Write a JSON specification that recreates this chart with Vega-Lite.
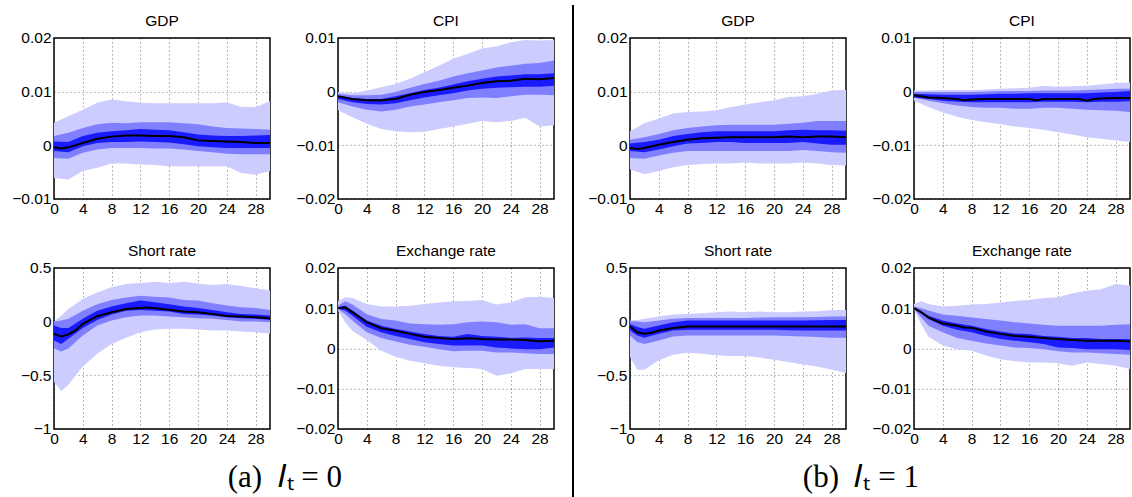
{
"$schema":"https://vega.github.io/schema/vega-lite/v6.json",
"padding":{"left":11,"top":4,"right":0,"bottom":0},
"background":"white",
"spacing":5,
"center":true,
"datasets":{
"bands":[
{"p":"aG","h":0,"l3":-0.0061,"l2":-0.0024,"l1":-0.0011,"u1":0.0007,"u2":0.0017,"u3":0.0042},
{"p":"aG","h":2,"l3":-0.0064,"l2":-0.0025,"l1":-0.0013,"u1":0.0006,"u2":0.0023,"u3":0.0054},
{"p":"aG","h":4,"l3":-0.0048,"l2":-0.0014,"l1":-0.0002,"u1":0.0017,"u2":0.0032,"u3":0.0066},
{"p":"aG","h":6,"l3":-0.0042,"l2":-0.0008,"l1":0.0004,"u1":0.0023,"u2":0.0039,"u3":0.0079},
{"p":"aG","h":8,"l3":-0.0034,"l2":-0.0005,"l1":0.0006,"u1":0.0026,"u2":0.0042,"u3":0.0085},
{"p":"aG","h":10,"l3":-0.0034,"l2":-0.0005,"l1":0.0006,"u1":0.0028,"u2":0.0041,"u3":0.0082},
{"p":"aG","h":12,"l3":-0.0036,"l2":-0.0005,"l1":0.0007,"u1":0.0030,"u2":0.0043,"u3":0.0079},
{"p":"aG","h":14,"l3":-0.0037,"l2":-0.0006,"l1":0.0006,"u1":0.0029,"u2":0.0043,"u3":0.0078},
{"p":"aG","h":16,"l3":-0.0039,"l2":-0.0006,"l1":0.0005,"u1":0.0028,"u2":0.0043,"u3":0.0078},
{"p":"aG","h":18,"l3":-0.0039,"l2":-0.0008,"l1":0.0002,"u1":0.0024,"u2":0.0041,"u3":0.0078},
{"p":"aG","h":20,"l3":-0.0039,"l2":-0.0011,"l1":-0.0002,"u1":0.0020,"u2":0.0039,"u3":0.0078},
{"p":"aG","h":22,"l3":-0.0039,"l2":-0.0013,"l1":-0.0004,"u1":0.0018,"u2":0.0035,"u3":0.0078},
{"p":"aG","h":24,"l3":-0.0039,"l2":-0.0016,"l1":-0.0005,"u1":0.0017,"u2":0.0032,"u3":0.0080},
{"p":"aG","h":26,"l3":-0.0052,"l2":-0.0017,"l1":-0.0005,"u1":0.0017,"u2":0.0031,"u3":0.0071},
{"p":"aG","h":28,"l3":-0.0055,"l2":-0.0017,"l1":-0.0005,"u1":0.0018,"u2":0.0030,"u3":0.0071},
{"p":"aG","h":30,"l3":-0.0048,"l2":-0.0017,"l1":-0.0005,"u1":0.0019,"u2":0.0029,"u3":0.0082},
{"p":"aC","h":0,"l3":-0.0035,"l2":-0.0020,"l1":-0.0014,"u1":-0.0007,"u2":-0.0004,"u3":-0.0001},
{"p":"aC","h":2,"l3":-0.0048,"l2":-0.0028,"l1":-0.0020,"u1":-0.0012,"u2":-0.0007,"u3":-0.0003},
{"p":"aC","h":4,"l3":-0.0060,"l2":-0.0034,"l1":-0.0023,"u1":-0.0014,"u2":-0.0007,"u3":0.0002},
{"p":"aC","h":6,"l3":-0.0070,"l2":-0.0037,"l1":-0.0024,"u1":-0.0014,"u2":-0.0006,"u3":0.0008},
{"p":"aC","h":8,"l3":-0.0074,"l2":-0.0034,"l1":-0.0022,"u1":-0.0009,"u2":-0.0001,"u3":0.0014},
{"p":"aC","h":10,"l3":-0.0076,"l2":-0.0028,"l1":-0.0016,"u1":-0.0003,"u2":0.0007,"u3":0.0024},
{"p":"aC","h":12,"l3":-0.0075,"l2":-0.0024,"l1":-0.0011,"u1":0.0003,"u2":0.0014,"u3":0.0036},
{"p":"aC","h":14,"l3":-0.0070,"l2":-0.0020,"l1":-0.0007,"u1":0.0007,"u2":0.0020,"u3":0.0048},
{"p":"aC","h":16,"l3":-0.0065,"l2":-0.0016,"l1":-0.0003,"u1":0.0013,"u2":0.0028,"u3":0.0061},
{"p":"aC","h":18,"l3":-0.0060,"l2":-0.0012,"l1":0.0002,"u1":0.0019,"u2":0.0034,"u3":0.0070},
{"p":"aC","h":20,"l3":-0.0055,"l2":-0.0011,"l1":0.0005,"u1":0.0024,"u2":0.0039,"u3":0.0080},
{"p":"aC","h":22,"l3":-0.0057,"l2":-0.0012,"l1":0.0007,"u1":0.0028,"u2":0.0045,"u3":0.0084},
{"p":"aC","h":24,"l3":-0.0055,"l2":-0.0009,"l1":0.0008,"u1":0.0030,"u2":0.0048,"u3":0.0092},
{"p":"aC","h":26,"l3":-0.0049,"l2":-0.0006,"l1":0.0009,"u1":0.0032,"u2":0.0052,"u3":0.0096},
{"p":"aC","h":28,"l3":-0.0065,"l2":-0.0006,"l1":0.0009,"u1":0.0032,"u2":0.0053,"u3":0.0095},
{"p":"aC","h":30,"l3":-0.0063,"l2":-0.0007,"l1":0.0011,"u1":0.0034,"u2":0.0058,"u3":0.0096},
{"p":"aS","h":0,"l3":-0.56,"l2":-0.25,"l1":-0.176,"u1":-0.037,"u2":0.0,"u3":0.0},
{"p":"aS","h":1,"l3":-0.65,"l2":-0.28,"l1":-0.21,"u1":-0.06,"u2":0.01,"u3":0.055},
{"p":"aS","h":2,"l3":-0.59,"l2":-0.25,"l1":-0.16,"u1":-0.06,"u2":0.025,"u3":0.117},
{"p":"aS","h":4,"l3":-0.42,"l2":-0.13,"l1":-0.06,"u1":0.025,"u2":0.10,"u3":0.21},
{"p":"aS","h":6,"l3":-0.30,"l2":-0.037,"l1":0.015,"u1":0.10,"u2":0.16,"u3":0.27},
{"p":"aS","h":8,"l3":-0.21,"l2":0.01,"l1":0.065,"u1":0.14,"u2":0.20,"u3":0.32},
{"p":"aS","h":10,"l3":-0.15,"l2":0.04,"l1":0.10,"u1":0.17,"u2":0.225,"u3":0.35},
{"p":"aS","h":12,"l3":-0.10,"l2":0.056,"l1":0.108,"u1":0.195,"u2":0.24,"u3":0.36},
{"p":"aS","h":14,"l3":-0.074,"l2":0.056,"l1":0.10,"u1":0.18,"u2":0.23,"u3":0.37},
{"p":"aS","h":16,"l3":-0.068,"l2":0.046,"l1":0.093,"u1":0.16,"u2":0.225,"u3":0.36},
{"p":"aS","h":18,"l3":-0.068,"l2":0.04,"l1":0.07,"u1":0.14,"u2":0.20,"u3":0.37},
{"p":"aS","h":20,"l3":-0.074,"l2":0.03,"l1":0.065,"u1":0.127,"u2":0.195,"u3":0.355},
{"p":"aS","h":22,"l3":-0.083,"l2":0.025,"l1":0.056,"u1":0.108,"u2":0.17,"u3":0.34},
{"p":"aS","h":24,"l3":-0.083,"l2":0.015,"l1":0.04,"u1":0.086,"u2":0.15,"u3":0.35},
{"p":"aS","h":26,"l3":-0.093,"l2":0.0,"l1":0.03,"u1":0.07,"u2":0.133,"u3":0.33},
{"p":"aS","h":28,"l3":-0.10,"l2":0.0,"l1":0.025,"u1":0.065,"u2":0.127,"u3":0.31},
{"p":"aS","h":30,"l3":-0.114,"l2":-0.006,"l1":0.015,"u1":0.056,"u2":0.108,"u3":0.29},
{"p":"aE","h":0,"l3":0.0094,"l2":0.0098,"l1":0.0098,"u1":0.0102,"u2":0.0106,"u3":0.0118},
{"p":"aE","h":1,"l3":0.0065,"l2":0.0085,"l1":0.0094,"u1":0.0106,"u2":0.0117,"u3":0.0127},
{"p":"aE","h":2,"l3":0.0044,"l2":0.0069,"l1":0.0081,"u1":0.0094,"u2":0.0109,"u3":0.0125},
{"p":"aE","h":4,"l3":0.0021,"l2":0.0040,"l1":0.0054,"u1":0.0069,"u2":0.0085,"u3":0.0110},
{"p":"aE","h":6,"l3":-0.0006,"l2":0.0026,"l1":0.0040,"u1":0.0056,"u2":0.0073,"u3":0.0104},
{"p":"aE","h":8,"l3":-0.0021,"l2":0.0017,"l1":0.0031,"u1":0.0048,"u2":0.0069,"u3":0.0104},
{"p":"aE","h":10,"l3":-0.0031,"l2":0.0009,"l1":0.0023,"u1":0.0042,"u2":0.0062,"u3":0.0106},
{"p":"aE","h":12,"l3":-0.0037,"l2":0.0004,"l1":0.0015,"u1":0.0036,"u2":0.0060,"u3":0.0110},
{"p":"aE","h":14,"l3":-0.0043,"l2":-0.0002,"l1":0.0011,"u1":0.0031,"u2":0.0059,"u3":0.0114},
{"p":"aE","h":16,"l3":-0.0047,"l2":-0.0007,"l1":0.0007,"u1":0.0029,"u2":0.0060,"u3":0.0117},
{"p":"aE","h":18,"l3":-0.0049,"l2":-0.0006,"l1":0.0007,"u1":0.0036,"u2":0.0065,"u3":0.0118},
{"p":"aE","h":20,"l3":-0.0051,"l2":-0.0006,"l1":0.0007,"u1":0.0031,"u2":0.0067,"u3":0.0120},
{"p":"aE","h":22,"l3":-0.0068,"l2":-0.0010,"l1":0.0002,"u1":0.0029,"u2":0.0065,"u3":0.0109},
{"p":"aE","h":24,"l3":-0.0062,"l2":-0.0010,"l1":0.0000,"u1":0.0026,"u2":0.0059,"u3":0.0114},
{"p":"aE","h":26,"l3":-0.0051,"l2":-0.0012,"l1":-0.0002,"u1":0.0027,"u2":0.0060,"u3":0.0127},
{"p":"aE","h":28,"l3":-0.0051,"l2":-0.0014,"l1":-0.0002,"u1":0.0026,"u2":0.0050,"u3":0.0128},
{"p":"aE","h":30,"l3":-0.0051,"l2":-0.0014,"l1":0.0002,"u1":0.0026,"u2":0.0050,"u3":0.0125},
{"p":"bG","h":0,"l3":-0.0045,"l2":-0.0024,"l1":-0.0011,"u1":0.0003,"u2":0.0010,"u3":0.0026},
{"p":"bG","h":2,"l3":-0.0054,"l2":-0.0025,"l1":-0.0013,"u1":0.0006,"u2":0.0015,"u3":0.0041},
{"p":"bG","h":4,"l3":-0.0048,"l2":-0.0019,"l1":-0.0008,"u1":0.0010,"u2":0.0021,"u3":0.0050},
{"p":"bG","h":6,"l3":-0.0041,"l2":-0.0014,"l1":-0.0002,"u1":0.0017,"u2":0.0028,"u3":0.0059},
{"p":"bG","h":8,"l3":-0.0037,"l2":-0.0011,"l1":0.0003,"u1":0.0021,"u2":0.0032,"u3":0.0062},
{"p":"bG","h":10,"l3":-0.0035,"l2":-0.0011,"l1":0.0004,"u1":0.0024,"u2":0.0035,"u3":0.0063},
{"p":"bG","h":12,"l3":-0.0034,"l2":-0.0011,"l1":0.0006,"u1":0.0026,"u2":0.0037,"u3":0.0065},
{"p":"bG","h":14,"l3":-0.0034,"l2":-0.0011,"l1":0.0006,"u1":0.0026,"u2":0.0038,"u3":0.0071},
{"p":"bG","h":16,"l3":-0.0032,"l2":-0.0011,"l1":0.0004,"u1":0.0026,"u2":0.0038,"u3":0.0076},
{"p":"bG","h":18,"l3":-0.0034,"l2":-0.0011,"l1":0.0004,"u1":0.0026,"u2":0.0038,"u3":0.0080},
{"p":"bG","h":20,"l3":-0.0034,"l2":-0.0011,"l1":0.0004,"u1":0.0026,"u2":0.0038,"u3":0.0084},
{"p":"bG","h":22,"l3":-0.0034,"l2":-0.0011,"l1":0.0004,"u1":0.0028,"u2":0.0040,"u3":0.0090},
{"p":"bG","h":24,"l3":-0.0032,"l2":-0.0009,"l1":0.0006,"u1":0.0029,"u2":0.0042,"u3":0.0091},
{"p":"bG","h":26,"l3":-0.0034,"l2":-0.0011,"l1":0.0003,"u1":0.0028,"u2":0.0045,"u3":0.0096},
{"p":"bG","h":28,"l3":-0.0037,"l2":-0.0013,"l1":0.0001,"u1":0.0028,"u2":0.0045,"u3":0.0102},
{"p":"bG","h":30,"l3":-0.0038,"l2":-0.0014,"l1":0.0001,"u1":0.0027,"u2":0.0045,"u3":0.0103},
{"p":"bC","h":0,"l3":-0.0017,"l2":-0.0011,"l1":-0.0011,"u1":-0.0004,"u2":-0.0001,"u3":0.0002},
{"p":"bC","h":2,"l3":-0.0029,"l2":-0.0017,"l1":-0.0014,"u1":-0.0005,"u2":-0.0001,"u3":0.0002},
{"p":"bC","h":4,"l3":-0.0039,"l2":-0.0022,"l1":-0.0017,"u1":-0.0006,"u2":-0.0001,"u3":0.0003},
{"p":"bC","h":6,"l3":-0.0047,"l2":-0.0026,"l1":-0.0019,"u1":-0.0006,"u2":-0.0001,"u3":0.0003},
{"p":"bC","h":8,"l3":-0.0053,"l2":-0.0029,"l1":-0.0020,"u1":-0.0006,"u2":-0.0001,"u3":0.0003},
{"p":"bC","h":10,"l3":-0.0057,"l2":-0.0030,"l1":-0.0020,"u1":-0.0005,"u2":0.0000,"u3":0.0004},
{"p":"bC","h":12,"l3":-0.0061,"l2":-0.0030,"l1":-0.0020,"u1":-0.0004,"u2":0.0001,"u3":0.0005},
{"p":"bC","h":14,"l3":-0.0065,"l2":-0.0032,"l1":-0.0020,"u1":-0.0004,"u2":0.0001,"u3":0.0006},
{"p":"bC","h":16,"l3":-0.0068,"l2":-0.0032,"l1":-0.0020,"u1":-0.0003,"u2":0.0001,"u3":0.0007},
{"p":"bC","h":18,"l3":-0.0071,"l2":-0.0030,"l1":-0.0019,"u1":-0.0003,"u2":0.0002,"u3":0.0011},
{"p":"bC","h":20,"l3":-0.0076,"l2":-0.0030,"l1":-0.0019,"u1":-0.0003,"u2":0.0002,"u3":0.0009},
{"p":"bC","h":22,"l3":-0.0080,"l2":-0.0032,"l1":-0.0019,"u1":-0.0003,"u2":0.0002,"u3":0.0010},
{"p":"bC","h":24,"l3":-0.0085,"l2":-0.0034,"l1":-0.0020,"u1":-0.0003,"u2":0.0003,"u3":0.0011},
{"p":"bC","h":26,"l3":-0.0088,"l2":-0.0035,"l1":-0.0019,"u1":-0.0002,"u2":0.0004,"u3":0.0013},
{"p":"bC","h":28,"l3":-0.0091,"l2":-0.0036,"l1":-0.0019,"u1":-0.0001,"u2":0.0005,"u3":0.0016},
{"p":"bC","h":30,"l3":-0.0094,"l2":-0.0038,"l1":-0.0018,"u1":0.0001,"u2":0.0005,"u3":0.0017},
{"p":"bS","h":0,"l3":-0.33,"l2":-0.13,"l1":-0.083,"u1":-0.022,"u2":0.003,"u3":0.01},
{"p":"bS","h":1,"l3":-0.45,"l2":-0.19,"l1":-0.13,"u1":-0.052,"u2":0.0,"u3":0.015},
{"p":"bS","h":2,"l3":-0.45,"l2":-0.21,"l1":-0.15,"u1":-0.068,"u2":-0.006,"u3":0.025},
{"p":"bS","h":4,"l3":-0.36,"l2":-0.176,"l1":-0.114,"u1":-0.037,"u2":0.01,"u3":0.046},
{"p":"bS","h":6,"l3":-0.31,"l2":-0.14,"l1":-0.083,"u1":-0.006,"u2":0.025,"u3":0.065},
{"p":"bS","h":8,"l3":-0.29,"l2":-0.13,"l1":-0.077,"u1":0.01,"u2":0.034,"u3":0.07},
{"p":"bS","h":10,"l3":-0.30,"l2":-0.13,"l1":-0.077,"u1":0.01,"u2":0.034,"u3":0.077},
{"p":"bS","h":12,"l3":-0.315,"l2":-0.13,"l1":-0.077,"u1":0.01,"u2":0.034,"u3":0.086},
{"p":"bS","h":14,"l3":-0.32,"l2":-0.13,"l1":-0.077,"u1":0.01,"u2":0.034,"u3":0.093},
{"p":"bS","h":16,"l3":-0.32,"l2":-0.13,"l1":-0.077,"u1":0.01,"u2":0.034,"u3":0.086},
{"p":"bS","h":18,"l3":-0.336,"l2":-0.13,"l1":-0.077,"u1":0.01,"u2":0.037,"u3":0.093},
{"p":"bS","h":20,"l3":-0.355,"l2":-0.13,"l1":-0.077,"u1":0.01,"u2":0.04,"u3":0.086},
{"p":"bS","h":22,"l3":-0.377,"l2":-0.135,"l1":-0.08,"u1":0.01,"u2":0.04,"u3":0.086},
{"p":"bS","h":24,"l3":-0.40,"l2":-0.14,"l1":-0.083,"u1":0.01,"u2":0.04,"u3":0.093},
{"p":"bS","h":26,"l3":-0.42,"l2":-0.145,"l1":-0.083,"u1":0.012,"u2":0.043,"u3":0.096},
{"p":"bS","h":28,"l3":-0.45,"l2":-0.15,"l1":-0.083,"u1":0.015,"u2":0.046,"u3":0.108},
{"p":"bS","h":30,"l3":-0.48,"l2":-0.15,"l1":-0.083,"u1":0.015,"u2":0.046,"u3":0.108},
{"p":"bE","h":0,"l3":0.0098,"l2":0.0098,"l1":0.0098,"u1":0.0100,"u2":0.0104,"u3":0.0110},
{"p":"bE","h":1,"l3":0.0060,"l2":0.0077,"l1":0.0086,"u1":0.0090,"u2":0.0100,"u3":0.0117},
{"p":"bE","h":2,"l3":0.0029,"l2":0.0056,"l1":0.0073,"u1":0.0081,"u2":0.0094,"u3":0.0110},
{"p":"bE","h":4,"l3":0.0007,"l2":0.0040,"l1":0.0056,"u1":0.0069,"u2":0.0084,"u3":0.0104},
{"p":"bE","h":6,"l3":-0.0002,"l2":0.0026,"l1":0.0046,"u1":0.0062,"u2":0.0081,"u3":0.0106},
{"p":"bE","h":8,"l3":-0.0006,"l2":0.0019,"l1":0.0040,"u1":0.0056,"u2":0.0077,"u3":0.0109},
{"p":"bE","h":10,"l3":-0.0018,"l2":0.0012,"l1":0.0031,"u1":0.0048,"u2":0.0073,"u3":0.0110},
{"p":"bE","h":12,"l3":-0.0027,"l2":0.0007,"l1":0.0023,"u1":0.0042,"u2":0.0069,"u3":0.0114},
{"p":"bE","h":14,"l3":-0.0032,"l2":0.0002,"l1":0.0019,"u1":0.0037,"u2":0.0065,"u3":0.0118},
{"p":"bE","h":16,"l3":-0.0035,"l2":0.0001,"l1":0.0015,"u1":0.0036,"u2":0.0062,"u3":0.0120},
{"p":"bE","h":18,"l3":-0.0035,"l2":-0.0002,"l1":0.0011,"u1":0.0031,"u2":0.0059,"u3":0.0125},
{"p":"bE","h":20,"l3":-0.0037,"l2":-0.0007,"l1":0.0002,"u1":0.0029,"u2":0.0056,"u3":0.0127},
{"p":"bE","h":22,"l3":-0.0043,"l2":-0.0010,"l1":0.0001,"u1":0.0026,"u2":0.0056,"u3":0.0137},
{"p":"bE","h":24,"l3":-0.0035,"l2":-0.0010,"l1":-0.0002,"u1":0.0026,"u2":0.0056,"u3":0.0143},
{"p":"bE","h":26,"l3":-0.0039,"l2":-0.0012,"l1":-0.0002,"u1":0.0023,"u2":0.0056,"u3":0.0147},
{"p":"bE","h":28,"l3":-0.0043,"l2":-0.0014,"l1":-0.0002,"u1":0.0023,"u2":0.0059,"u3":0.0160},
{"p":"bE","h":30,"l3":-0.0051,"l2":-0.0016,"l1":-0.0004,"u1":0.0023,"u2":0.0060,"u3":0.0156}
],
"med":[
{"p":"aG","h":0,"m":-0.0004},{"p":"aG","h":1,"m":-0.0006},{"p":"aG","h":2,"m":-0.0004},{"p":"aG","h":4,"m":0.0004},{"p":"aG","h":6,"m":0.0012},{"p":"aG","h":8,"m":0.0016},{"p":"aG","h":10,"m":0.0018},{"p":"aG","h":12,"m":0.0018},{"p":"aG","h":14,"m":0.0017},{"p":"aG","h":16,"m":0.0017},{"p":"aG","h":18,"m":0.0015},{"p":"aG","h":20,"m":0.0009},{"p":"aG","h":22,"m":0.0008},{"p":"aG","h":24,"m":0.0007},{"p":"aG","h":26,"m":0.0006},{"p":"aG","h":28,"m":0.0004},{"p":"aG","h":30,"m":0.0004},
{"p":"aC","h":0,"m":-0.0009},{"p":"aC","h":2,"m":-0.0014},{"p":"aC","h":4,"m":-0.0016},{"p":"aC","h":6,"m":-0.0016},{"p":"aC","h":8,"m":-0.0014},{"p":"aC","h":10,"m":-0.0006},{"p":"aC","h":12,"m":-0.0001},{"p":"aC","h":14,"m":0.0003},{"p":"aC","h":16,"m":0.0007},{"p":"aC","h":18,"m":0.0011},{"p":"aC","h":20,"m":0.0016},{"p":"aC","h":22,"m":0.0019},{"p":"aC","h":24,"m":0.0020},{"p":"aC","h":26,"m":0.0024},{"p":"aC","h":28,"m":0.0023},{"p":"aC","h":30,"m":0.0025},
{"p":"aS","h":0,"m":-0.114},{"p":"aS","h":1,"m":-0.14},{"p":"aS","h":2,"m":-0.12},{"p":"aS","h":3,"m":-0.083},{"p":"aS","h":4,"m":-0.022},{"p":"aS","h":6,"m":0.05},{"p":"aS","h":8,"m":0.086},{"p":"aS","h":10,"m":0.117},{"p":"aS","h":12,"m":0.127},{"p":"aS","h":13,"m":0.13},{"p":"aS","h":14,"m":0.123},{"p":"aS","h":16,"m":0.11},{"p":"aS","h":18,"m":0.093},{"p":"aS","h":20,"m":0.086},{"p":"aS","h":22,"m":0.07},{"p":"aS","h":24,"m":0.052},{"p":"aS","h":26,"m":0.046},{"p":"aS","h":28,"m":0.04},{"p":"aS","h":30,"m":0.03},
{"p":"aE","h":0,"m":0.0100},{"p":"aE","h":1,"m":0.0102},{"p":"aE","h":2,"m":0.0090},{"p":"aE","h":4,"m":0.0065},{"p":"aE","h":6,"m":0.0050},{"p":"aE","h":8,"m":0.0044},{"p":"aE","h":10,"m":0.0036},{"p":"aE","h":12,"m":0.0029},{"p":"aE","h":14,"m":0.0026},{"p":"aE","h":16,"m":0.0023},{"p":"aE","h":18,"m":0.0025},{"p":"aE","h":20,"m":0.0023},{"p":"aE","h":22,"m":0.0022},{"p":"aE","h":24,"m":0.0022},{"p":"aE","h":26,"m":0.0021},{"p":"aE","h":28,"m":0.0018},{"p":"aE","h":30,"m":0.0019},
{"p":"bG","h":0,"m":-0.0005},{"p":"bG","h":1,"m":-0.0007},{"p":"bG","h":2,"m":-0.0005},{"p":"bG","h":4,"m":0.0001},{"p":"bG","h":6,"m":0.0006},{"p":"bG","h":8,"m":0.0010},{"p":"bG","h":10,"m":0.0013},{"p":"bG","h":12,"m":0.0014},{"p":"bG","h":14,"m":0.0015},{"p":"bG","h":16,"m":0.0015},{"p":"bG","h":18,"m":0.0015},{"p":"bG","h":20,"m":0.0015},{"p":"bG","h":22,"m":0.0016},{"p":"bG","h":24,"m":0.0015},{"p":"bG","h":26,"m":0.0016},{"p":"bG","h":28,"m":0.0016},{"p":"bG","h":30,"m":0.0015},
{"p":"bC","h":0,"m":-0.0007},{"p":"bC","h":2,"m":-0.0011},{"p":"bC","h":4,"m":-0.0012},{"p":"bC","h":6,"m":-0.0014},{"p":"bC","h":7,"m":-0.0016},{"p":"bC","h":8,"m":-0.0015},{"p":"bC","h":10,"m":-0.0014},{"p":"bC","h":12,"m":-0.0014},{"p":"bC","h":14,"m":-0.0014},{"p":"bC","h":16,"m":-0.0014},{"p":"bC","h":17,"m":-0.0016},{"p":"bC","h":18,"m":-0.0014},{"p":"bC","h":20,"m":-0.0014},{"p":"bC","h":22,"m":-0.0014},{"p":"bC","h":23,"m":-0.0014},{"p":"bC","h":24,"m":-0.0017},{"p":"bC","h":25,"m":-0.0014},{"p":"bC","h":26,"m":-0.0013},{"p":"bC","h":28,"m":-0.0012},{"p":"bC","h":30,"m":-0.0012},
{"p":"bS","h":0,"m":-0.046},{"p":"bS","h":1,"m":-0.10},{"p":"bS","h":2,"m":-0.114},{"p":"bS","h":3,"m":-0.105},{"p":"bS","h":4,"m":-0.083},{"p":"bS","h":6,"m":-0.06},{"p":"bS","h":8,"m":-0.046},{"p":"bS","h":12,"m":-0.046},{"p":"bS","h":16,"m":-0.046},{"p":"bS","h":20,"m":-0.046},{"p":"bS","h":24,"m":-0.046},{"p":"bS","h":28,"m":-0.046},{"p":"bS","h":30,"m":-0.046},
{"p":"bE","h":0,"m":0.0100},{"p":"bE","h":1,"m":0.0090},{"p":"bE","h":2,"m":0.0077},{"p":"bE","h":3,"m":0.0069},{"p":"bE","h":4,"m":0.0062},{"p":"bE","h":6,"m":0.0056},{"p":"bE","h":7,"m":0.0052},{"p":"bE","h":8,"m":0.0051},{"p":"bE","h":10,"m":0.0042},{"p":"bE","h":12,"m":0.0036},{"p":"bE","h":14,"m":0.0031},{"p":"bE","h":16,"m":0.0029},{"p":"bE","h":18,"m":0.0026},{"p":"bE","h":20,"m":0.0023},{"p":"bE","h":22,"m":0.0021},{"p":"bE","h":24,"m":0.0019},{"p":"bE","h":26,"m":0.0019},{"p":"bE","h":28,"m":0.0019},{"p":"bE","h":30,"m":0.0017}
]
},
"hconcat":[
{"concat":[
{"title":"GDP","width":216,"height":161,"data":{"name":"bands"},"transform":[{"filter":"datum.p=='aG'"}],
"encoding":{"x":{"field":"h","type":"quantitative","title":null,"scale":{"domain":[0,30],"nice":false},"axis":{"values":[0,4,8,12,16,20,24,28]}}},
"layer":[
{"mark":{"type":"area","color":"#ccccff"},"encoding":{"y":{"field":"l3","type":"quantitative","title":null,"scale":{"domain":[-0.01,0.02],"nice":false,"zero":false},"axis":{"values":[-0.01,0,0.01,0.02],"format":"~g"}},"y2":{"field":"u3"}}},
{"mark":{"type":"area","color":"#8080ff"},"encoding":{"y":{"field":"l2","type":"quantitative","title":null,"scale":{"domain":[-0.01,0.02],"nice":false,"zero":false}},"y2":{"field":"u2"}}},
{"mark":{"type":"area","color":"#1a1aff"},"encoding":{"y":{"field":"l1","type":"quantitative","title":null,"scale":{"domain":[-0.01,0.02],"nice":false,"zero":false}},"y2":{"field":"u1"}}},
{"data":{"name":"med"},"transform":[{"filter":"datum.p=='aG'"}],"mark":{"type":"line","color":"black","strokeWidth":2},"encoding":{"y":{"field":"m","type":"quantitative","title":null,"scale":{"domain":[-0.01,0.02],"nice":false,"zero":false}}}}
]},
{"title":"CPI","width":216,"height":161,"data":{"name":"bands"},"transform":[{"filter":"datum.p=='aC'"}],
"encoding":{"x":{"field":"h","type":"quantitative","title":null,"scale":{"domain":[0,30],"nice":false},"axis":{"values":[0,4,8,12,16,20,24,28]}}},
"layer":[
{"mark":{"type":"area","color":"#ccccff"},"encoding":{"y":{"field":"l3","type":"quantitative","title":null,"scale":{"domain":[-0.02,0.01],"nice":false,"zero":false},"axis":{"values":[-0.02,-0.01,0,0.01],"format":"~g"}},"y2":{"field":"u3"}}},
{"mark":{"type":"area","color":"#8080ff"},"encoding":{"y":{"field":"l2","type":"quantitative","title":null,"scale":{"domain":[-0.02,0.01],"nice":false,"zero":false}},"y2":{"field":"u2"}}},
{"mark":{"type":"area","color":"#1a1aff"},"encoding":{"y":{"field":"l1","type":"quantitative","title":null,"scale":{"domain":[-0.02,0.01],"nice":false,"zero":false}},"y2":{"field":"u1"}}},
{"data":{"name":"med"},"transform":[{"filter":"datum.p=='aC'"}],"mark":{"type":"line","color":"black","strokeWidth":2},"encoding":{"y":{"field":"m","type":"quantitative","title":null,"scale":{"domain":[-0.02,0.01],"nice":false,"zero":false}}}}
]},
{"title":"Short rate","width":216,"height":161,"data":{"name":"bands"},"transform":[{"filter":"datum.p=='aS'"}],
"encoding":{"x":{"field":"h","type":"quantitative","title":null,"scale":{"domain":[0,30],"nice":false},"axis":{"values":[0,4,8,12,16,20,24,28]}}},
"layer":[
{"mark":{"type":"area","color":"#ccccff"},"encoding":{"y":{"field":"l3","type":"quantitative","title":null,"scale":{"domain":[-1,0.5],"nice":false,"zero":false},"axis":{"values":[-1,-0.5,0,0.5],"format":"~g"}},"y2":{"field":"u3"}}},
{"mark":{"type":"area","color":"#8080ff"},"encoding":{"y":{"field":"l2","type":"quantitative","title":null,"scale":{"domain":[-1,0.5],"nice":false,"zero":false}},"y2":{"field":"u2"}}},
{"mark":{"type":"area","color":"#1a1aff"},"encoding":{"y":{"field":"l1","type":"quantitative","title":null,"scale":{"domain":[-1,0.5],"nice":false,"zero":false}},"y2":{"field":"u1"}}},
{"data":{"name":"med"},"transform":[{"filter":"datum.p=='aS'"}],"mark":{"type":"line","color":"black","strokeWidth":2},"encoding":{"y":{"field":"m","type":"quantitative","title":null,"scale":{"domain":[-1,0.5],"nice":false,"zero":false}}}}
]},
{"title":"Exchange rate","width":216,"height":161,"data":{"name":"bands"},"transform":[{"filter":"datum.p=='aE'"}],
"encoding":{"x":{"field":"h","type":"quantitative","title":null,"scale":{"domain":[0,30],"nice":false},"axis":{"values":[0,4,8,12,16,20,24,28]}}},
"layer":[
{"mark":{"type":"area","color":"#ccccff"},"encoding":{"y":{"field":"l3","type":"quantitative","title":null,"scale":{"domain":[-0.02,0.02],"nice":false,"zero":false},"axis":{"values":[-0.02,-0.01,0,0.01,0.02],"format":"~g"}},"y2":{"field":"u3"}}},
{"mark":{"type":"area","color":"#8080ff"},"encoding":{"y":{"field":"l2","type":"quantitative","title":null,"scale":{"domain":[-0.02,0.02],"nice":false,"zero":false}},"y2":{"field":"u2"}}},
{"mark":{"type":"area","color":"#1a1aff"},"encoding":{"y":{"field":"l1","type":"quantitative","title":null,"scale":{"domain":[-0.02,0.02],"nice":false,"zero":false}},"y2":{"field":"u1"}}},
{"data":{"name":"med"},"transform":[{"filter":"datum.p=='aE'"}],"mark":{"type":"line","color":"black","strokeWidth":2},"encoding":{"y":{"field":"m","type":"quantitative","title":null,"scale":{"domain":[-0.02,0.02],"nice":false,"zero":false}}}}
]}
],"columns":2,"spacing":{"column":20,"row":24},
"title":{"text":"(a)\u2002𝐼ₜ = 0","orient":"bottom","anchor":"middle","font":"Liberation Serif","fontSize":31,"offset":15}},
{"width":18,"height":520,"data":{"values":[{"x":0,"y0":0,"y1":1}]},"mark":{"type":"rule","color":"black","strokeWidth":2},
"encoding":{"x":{"field":"x","type":"quantitative","axis":null,"scale":{"domain":[-1,1]}},"y":{"field":"y0","type":"quantitative","axis":null,"scale":{"domain":[0,1]}},"y2":{"field":"y1"}},
"view":{"stroke":null}},
{"concat":[
{"title":"GDP","width":216,"height":161,"data":{"name":"bands"},"transform":[{"filter":"datum.p=='bG'"}],
"encoding":{"x":{"field":"h","type":"quantitative","title":null,"scale":{"domain":[0,30],"nice":false},"axis":{"values":[0,4,8,12,16,20,24,28]}}},
"layer":[
{"mark":{"type":"area","color":"#ccccff"},"encoding":{"y":{"field":"l3","type":"quantitative","title":null,"scale":{"domain":[-0.01,0.02],"nice":false,"zero":false},"axis":{"values":[-0.01,0,0.01,0.02],"format":"~g"}},"y2":{"field":"u3"}}},
{"mark":{"type":"area","color":"#8080ff"},"encoding":{"y":{"field":"l2","type":"quantitative","title":null,"scale":{"domain":[-0.01,0.02],"nice":false,"zero":false}},"y2":{"field":"u2"}}},
{"mark":{"type":"area","color":"#1a1aff"},"encoding":{"y":{"field":"l1","type":"quantitative","title":null,"scale":{"domain":[-0.01,0.02],"nice":false,"zero":false}},"y2":{"field":"u1"}}},
{"data":{"name":"med"},"transform":[{"filter":"datum.p=='bG'"}],"mark":{"type":"line","color":"black","strokeWidth":2},"encoding":{"y":{"field":"m","type":"quantitative","title":null,"scale":{"domain":[-0.01,0.02],"nice":false,"zero":false}}}}
]},
{"title":"CPI","width":216,"height":161,"data":{"name":"bands"},"transform":[{"filter":"datum.p=='bC'"}],
"encoding":{"x":{"field":"h","type":"quantitative","title":null,"scale":{"domain":[0,30],"nice":false},"axis":{"values":[0,4,8,12,16,20,24,28]}}},
"layer":[
{"mark":{"type":"area","color":"#ccccff"},"encoding":{"y":{"field":"l3","type":"quantitative","title":null,"scale":{"domain":[-0.02,0.01],"nice":false,"zero":false},"axis":{"values":[-0.02,-0.01,0,0.01],"format":"~g"}},"y2":{"field":"u3"}}},
{"mark":{"type":"area","color":"#8080ff"},"encoding":{"y":{"field":"l2","type":"quantitative","title":null,"scale":{"domain":[-0.02,0.01],"nice":false,"zero":false}},"y2":{"field":"u2"}}},
{"mark":{"type":"area","color":"#1a1aff"},"encoding":{"y":{"field":"l1","type":"quantitative","title":null,"scale":{"domain":[-0.02,0.01],"nice":false,"zero":false}},"y2":{"field":"u1"}}},
{"data":{"name":"med"},"transform":[{"filter":"datum.p=='bC'"}],"mark":{"type":"line","color":"black","strokeWidth":2},"encoding":{"y":{"field":"m","type":"quantitative","title":null,"scale":{"domain":[-0.02,0.01],"nice":false,"zero":false}}}}
]},
{"title":"Short rate","width":216,"height":161,"data":{"name":"bands"},"transform":[{"filter":"datum.p=='bS'"}],
"encoding":{"x":{"field":"h","type":"quantitative","title":null,"scale":{"domain":[0,30],"nice":false},"axis":{"values":[0,4,8,12,16,20,24,28]}}},
"layer":[
{"mark":{"type":"area","color":"#ccccff"},"encoding":{"y":{"field":"l3","type":"quantitative","title":null,"scale":{"domain":[-1,0.5],"nice":false,"zero":false},"axis":{"values":[-1,-0.5,0,0.5],"format":"~g"}},"y2":{"field":"u3"}}},
{"mark":{"type":"area","color":"#8080ff"},"encoding":{"y":{"field":"l2","type":"quantitative","title":null,"scale":{"domain":[-1,0.5],"nice":false,"zero":false}},"y2":{"field":"u2"}}},
{"mark":{"type":"area","color":"#1a1aff"},"encoding":{"y":{"field":"l1","type":"quantitative","title":null,"scale":{"domain":[-1,0.5],"nice":false,"zero":false}},"y2":{"field":"u1"}}},
{"data":{"name":"med"},"transform":[{"filter":"datum.p=='bS'"}],"mark":{"type":"line","color":"black","strokeWidth":2},"encoding":{"y":{"field":"m","type":"quantitative","title":null,"scale":{"domain":[-1,0.5],"nice":false,"zero":false}}}}
]},
{"title":"Exchange rate","width":216,"height":161,"data":{"name":"bands"},"transform":[{"filter":"datum.p=='bE'"}],
"encoding":{"x":{"field":"h","type":"quantitative","title":null,"scale":{"domain":[0,30],"nice":false},"axis":{"values":[0,4,8,12,16,20,24,28]}}},
"layer":[
{"mark":{"type":"area","color":"#ccccff"},"encoding":{"y":{"field":"l3","type":"quantitative","title":null,"scale":{"domain":[-0.02,0.02],"nice":false,"zero":false},"axis":{"values":[-0.02,-0.01,0,0.01,0.02],"format":"~g"}},"y2":{"field":"u3"}}},
{"mark":{"type":"area","color":"#8080ff"},"encoding":{"y":{"field":"l2","type":"quantitative","title":null,"scale":{"domain":[-0.02,0.02],"nice":false,"zero":false}},"y2":{"field":"u2"}}},
{"mark":{"type":"area","color":"#1a1aff"},"encoding":{"y":{"field":"l1","type":"quantitative","title":null,"scale":{"domain":[-0.02,0.02],"nice":false,"zero":false}},"y2":{"field":"u1"}}},
{"data":{"name":"med"},"transform":[{"filter":"datum.p=='bE'"}],"mark":{"type":"line","color":"black","strokeWidth":2},"encoding":{"y":{"field":"m","type":"quantitative","title":null,"scale":{"domain":[-0.02,0.02],"nice":false,"zero":false}}}}
]}
],"columns":2,"spacing":{"column":20,"row":24},
"title":{"text":"(b)\u2002𝐼ₜ = 1","orient":"bottom","anchor":"middle","font":"Liberation Serif","fontSize":31,"offset":15}}
],
"config":{
"font":"Liberation Sans",
"numberFormat":"~g",
"view":{"stroke":"black","strokeWidth":1.5},
"axis":{"grid":true,"gridColor":"black","gridOpacity":0.55,"gridDash":[1,3],"gridWidth":1,"domain":false,"ticks":false,"labelFont":"Liberation Sans","labelFontSize":15.5,"labelColor":"black","labelPadding":3,"labelFlush":false,"labelOverlap":false},
"title":{"font":"Liberation Sans","fontSize":15.5,"fontWeight":"normal","color":"black","offset":1}
}
}
